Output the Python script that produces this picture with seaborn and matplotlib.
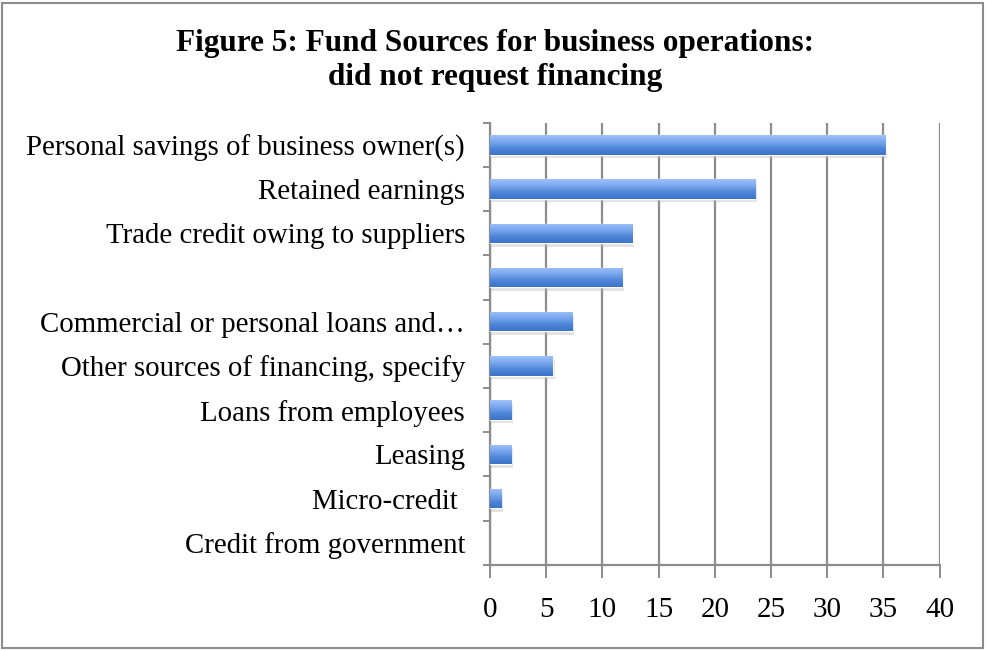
import numpy as np
import pandas as pd
import matplotlib
matplotlib.use("Agg")
import matplotlib.pyplot as plt
import seaborn as sns
from matplotlib.patches import Rectangle
from matplotlib.colors import LinearSegmentedColormap

# Dados
fontes = [
    "Personal savings of business owner(s)",
    "Retained earnings",
    "Trade credit owing to suppliers",
    "",
    "Commercial or personal loans and\u2026",
    "Other sources of financing, specify",
    "Loans from employees",
    "Leasing",
    "Micro-credit ",
    "Credit from government",
]
percentagens = [35.2, 23.6, 12.7, 11.8, 7.3, 5.6, 1.9, 1.9, 1.0, 0.0]
ticks_x = [0, 5, 10, 15, 20, 25, 30, 35, 40]

df = pd.DataFrame({"fonte": range(len(fontes)), "valor": percentagens})

sns.set_theme(style="white")
plt.rcParams["font.family"] = ["Liberation Serif", "DejaVu Serif"]
plt.rcParams["text.color"] = "black"

COR_EIXO = "#8c8c8c"

fig = plt.figure(figsize=(9.86, 6.5), dpi=100)
ax = fig.add_axes([0.497, 0.131, 0.456, 0.680])

sns.barplot(data=df, x="valor", y="fonte", orient="h", order=list(range(len(fontes))),
            color="#5b8fe0", width=0.44, ax=ax, zorder=3)

# gradiente e sombra nas barras
cmap = LinearSegmentedColormap.from_list("azul", ["#9fc1f8", "#7aa8ee", "#4f86d8", "#3b73c8"])
grad = np.linspace(0, 1, 64).reshape(-1, 1)
for p in list(ax.patches):
    x0, y0 = p.get_x(), p.get_y()
    w, h = p.get_width(), p.get_height()
    if w <= 0:
        p.set_visible(False)
        continue
    sombra = Rectangle((x0, y0 + 0.08), w + 0.15, h, facecolor="#b8b8b8", alpha=0.4,
                       edgecolor="none", zorder=2)
    ax.add_patch(sombra)
    im = ax.imshow(grad, cmap=cmap, aspect="auto", extent=(x0, x0 + w, y0, y0 + h),
                   origin="lower", zorder=4)
    im.set_clip_path(p)

ax.set_xlim(0, 40)
ax.set_ylim(len(fontes) - 0.5, -0.5)
ax.set_xticks(ticks_x)
ax.set_xticklabels([str(t) for t in ticks_x], fontsize=21)
ax.set_yticks(range(len(fontes)))
ax.set_yticklabels(fontes, fontsize=20.8)
ax.set_yticks(np.arange(-0.5, len(fontes), 1.0), minor=True)
ax.set_xlabel("")
ax.set_ylabel("")

ax.grid(axis="x", color=COR_EIXO, linewidth=1.6, zorder=0)
ax.set_axisbelow(True)
for lado in ["top", "right"]:
    ax.spines[lado].set_visible(False)
for lado in ["left", "bottom"]:
    ax.spines[lado].set_color(COR_EIXO)
    ax.spines[lado].set_linewidth(1.6)

ax.tick_params(axis="y", which="major", length=0, pad=18, labelcolor="black")
ax.tick_params(axis="y", which="minor", left=True, length=5, width=1.4, color=COR_EIXO)
ax.tick_params(axis="x", which="major", bottom=True, length=9, width=1.4, color=COR_EIXO,
               pad=14, labelcolor="black")

fig.text(0.502, 0.933, "Figure 5: Fund Sources for business operations:",
         ha="center", va="center", fontsize=22.5, fontweight="bold", color="black")
fig.text(0.502, 0.881, "did not request financing",
         ha="center", va="center", fontsize=22.5, fontweight="bold", color="black")

# moldura à volta da figura
fig.patches.append(Rectangle((0.002, 0.003), 0.995, 0.993, transform=fig.transFigure,
                             fill=False, edgecolor="#8c8c8c", linewidth=1.5))

plt.savefig("out.png", dpi=100)
